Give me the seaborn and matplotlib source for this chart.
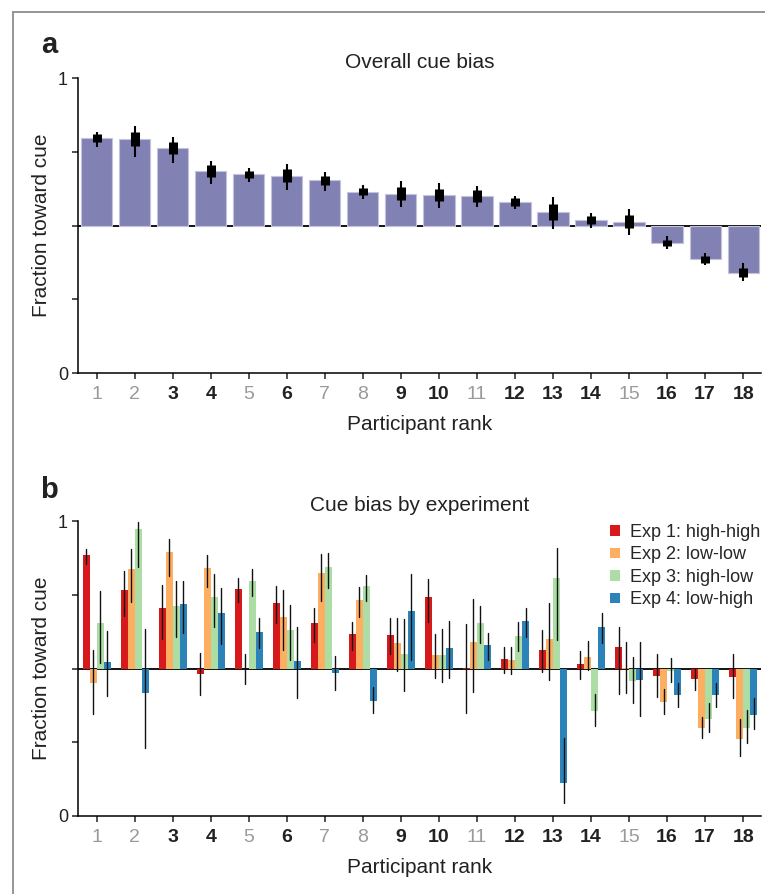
import numpy as np
import pandas as pd
import matplotlib
matplotlib.use("Agg")
import matplotlib.pyplot as plt
from matplotlib.patches import Patch
from matplotlib.lines import Line2D
from matplotlib import font_manager
import seaborn as sns

# ---------------- data ----------------
ranks = [str(i) for i in range(1, 19)]
bold_ranks = ["3", "4", "6", "9", "10", "12", "13", "14", "16", "17", "18"]

overall = [0.796, 0.792, 0.763, 0.685, 0.673, 0.669, 0.653, 0.615, 0.608,
           0.604, 0.600, 0.579, 0.545, 0.519, 0.513, 0.440, 0.385, 0.340]
overall_lo = [0.765, 0.733, 0.713, 0.640, 0.646, 0.620, 0.617, 0.589, 0.562,
              0.560, 0.563, 0.555, 0.487, 0.490, 0.468, 0.419, 0.367, 0.312]
overall_hi = [0.818, 0.837, 0.800, 0.720, 0.695, 0.707, 0.681, 0.636, 0.650,
              0.643, 0.633, 0.599, 0.597, 0.542, 0.556, 0.464, 0.408, 0.372]
overall_box = [0.014, 0.024, 0.021, 0.020, 0.012, 0.023, 0.016, 0.012, 0.022,
               0.021, 0.019, 0.013, 0.028, 0.014, 0.023, 0.011, 0.012, 0.015]

exp_labels = ["Exp 1: high-high", "Exp 2: low-low", "Exp 3: high-low", "Exp 4: low-high"]
exp_colors = ["#d7191c", "#fdae61", "#abdda4", "#2b83ba"]

exp1 = [0.884, 0.766, 0.704, 0.480, 0.771, 0.723, 0.653, 0.617, 0.615,
        0.742, 0.502, 0.531, 0.563, 0.514, 0.572, 0.475, 0.463, 0.472]
exp1_lo = [0.853, 0.678, 0.601, 0.409, 0.726, 0.653, 0.591, 0.563, 0.549,
           0.659, 0.348, 0.486, 0.489, 0.464, 0.414, 0.404, 0.427, 0.399]
exp1_hi = [0.904, 0.830, 0.784, 0.554, 0.806, 0.780, 0.704, 0.657, 0.671,
           0.804, 0.650, 0.574, 0.629, 0.558, 0.642, 0.549, 0.498, 0.549]

exp2 = [0.450, 0.836, 0.895, 0.840, 0.498, 0.675, 0.825, 0.733, 0.587,
        0.545, 0.589, 0.528, 0.600, 0.540, 0.503, 0.385, 0.298, 0.260]
exp2_lo = [0.345, 0.726, 0.814, 0.777, 0.446, 0.563, 0.730, 0.676, 0.493,
           0.467, 0.420, 0.480, 0.461, 0.495, 0.416, 0.346, 0.263, 0.204]
exp2_hi = [0.563, 0.904, 0.940, 0.884, 0.549, 0.767, 0.888, 0.777, 0.670,
           0.616, 0.736, 0.574, 0.723, 0.594, 0.591, 0.429, 0.337, 0.328]

exp3 = [0.654, 0.972, 0.712, 0.741, 0.798, 0.631, 0.845, 0.779, 0.550,
        0.546, 0.654, 0.611, 0.807, 0.357, 0.459, 0.492, 0.330, 0.299]
exp3_lo = [0.520, 0.845, 0.608, 0.640, 0.746, 0.529, 0.774, 0.730, 0.424,
           0.455, 0.588, 0.560, 0.597, 0.306, 0.382, 0.455, 0.286, 0.248]
exp3_hi = [0.764, 0.995, 0.796, 0.819, 0.837, 0.715, 0.893, 0.816, 0.668,
           0.633, 0.712, 0.658, 0.909, 0.414, 0.540, 0.535, 0.382, 0.359]

exp4 = [0.521, 0.418, 0.719, 0.688, 0.624, 0.525, 0.484, 0.390, 0.695,
        0.569, 0.579, 0.660, 0.113, 0.641, 0.461, 0.409, 0.411, 0.343]
exp4_lo = [0.407, 0.229, 0.619, 0.583, 0.569, 0.401, 0.427, 0.348, 0.529,
           0.467, 0.529, 0.606, 0.045, 0.585, 0.339, 0.368, 0.368, 0.296]
exp4_hi = [0.628, 0.635, 0.797, 0.772, 0.670, 0.642, 0.542, 0.438, 0.819,
           0.662, 0.621, 0.706, 0.263, 0.687, 0.590, 0.452, 0.450, 0.399]

baseline = 0.5

# ---------------- style ----------------
sns.set_style("ticks")
installed = {f.name for f in font_manager.fontManager.ttflist}
base_font = "Liberation Sans" if "Liberation Sans" in installed else "DejaVu Sans"
narrow_font = "Liberation Sans Narrow" if "Liberation Sans Narrow" in installed else base_font
plt.rcParams["font.family"] = [base_font, "DejaVu Sans"]
plt.rcParams["axes.linewidth"] = 1.1
plt.rcParams["xtick.major.width"] = 1.1
plt.rcParams["ytick.major.width"] = 1.1
plt.rcParams["xtick.major.size"] = 4
plt.rcParams["ytick.major.size"] = 4
plt.rcParams["xtick.color"] = "#222222"
plt.rcParams["ytick.color"] = "#222222"

W, H = 765, 894
fig = plt.figure(figsize=(W / 100, H / 100), dpi=100)

left_px, right_px = 77.7, 761.0
def axes_rect(top_px, bottom_px):
    return [left_px / W, 1 - bottom_px / H, (right_px - left_px) / W, (bottom_px - top_px) / H]

ax_a = fig.add_axes(axes_rect(78, 373))
ax_b = fig.add_axes(axes_rect(521, 816))

# ---------------- panel a ----------------
df_a = pd.DataFrame({"rank": ranks, "delta": np.array(overall) - baseline})
ax_a.axhline(baseline, color="black", lw=1.3, zorder=0.5)
sns.barplot(data=df_a, x="rank", y="delta", order=ranks, color="#8181b4",
            saturation=1, width=0.82, errorbar=None, bottom=baseline,
            edgecolor="#c3c3de", linewidth=0.8, ax=ax_a, zorder=1)
centers_a = [p.get_x() + p.get_width() / 2 for p in ax_a.patches]
for xc, m, lo, hi, bx in zip(centers_a, overall, overall_lo, overall_hi, overall_box):
    ax_a.plot([xc, xc], [lo, hi], color="black", lw=1.5, solid_capstyle="butt", zorder=3)
    ax_a.plot([xc, xc], [m - bx, m + bx], color="black", lw=6.5, solid_capstyle="butt", zorder=3)

# ---------------- panel b ----------------
rows = []
for lab, vals in zip(exp_labels, [exp1, exp2, exp3, exp4]):
    for r, v in zip(ranks, vals):
        rows.append({"rank": r, "exp": lab, "delta": v - baseline})
df_b = pd.DataFrame(rows)
ax_b.axhline(baseline, color="black", lw=1.3, zorder=0.5)
sns.barplot(data=df_b, x="rank", y="delta", hue="exp", order=ranks,
            hue_order=exp_labels, palette=exp_colors, saturation=1, width=0.74,
            errorbar=None, bottom=baseline, edgecolor="none", linewidth=0,
            legend=False, ax=ax_b, zorder=1)
patches_b = list(ax_b.patches)
k = 0
for los, his in zip([exp1_lo, exp2_lo, exp3_lo, exp4_lo], [exp1_hi, exp2_hi, exp3_hi, exp4_hi]):
    for lo, hi in zip(los, his):
        p = patches_b[k]
        xc = p.get_x() + p.get_width() / 2
        ax_b.plot([xc, xc], [lo, hi], color="#111111", lw=1.0, zorder=3)
        k += 1

handles = [Patch(facecolor=c, edgecolor="none", label=l) for c, l in zip(exp_colors, exp_labels)]
ax_b.legend(handles=handles, loc="upper left", bbox_to_anchor=(0.779, 0.99),
            frameon=False, fontsize=13, handlelength=0.55, handleheight=0.5,
            handletextpad=0.55, labelspacing=0.3, borderpad=0, borderaxespad=0)

# ---------------- common axes styling ----------------
for ax, title in [(ax_a, "Overall cue bias"), (ax_b, "Cue bias by experiment")]:
    ax.set_xlim(-0.5, 17.47)
    ax.set_ylim(0, 1)
    ax.set_yticks([0, 0.25, 0.5, 0.75, 1])
    ax.set_yticklabels(["0", "", "", "", "1"], fontsize=13, color="#222222")
    ax.tick_params(axis="y", pad=3)
    ax.tick_params(axis="x", pad=5)
    ax.set_xticks(range(len(ranks)))
    ax.set_xticklabels(ranks)
    for t, r in zip(ax.get_xticklabels(), ranks):
        t.set_fontfamily([narrow_font, "DejaVu Sans"])
        t.set_fontsize(14)
        if r in bold_ranks:
            t.set_fontweight("bold")
            t.set_color("#222222")
        else:
            t.set_color("#9a9a9a")
    ax.set_xlabel("Participant rank", fontsize=15, color="#222222",
                  fontfamily=[narrow_font, "DejaVu Sans"], labelpad=9)
    ax.set_ylabel("Fraction toward cue", fontsize=15, color="#222222", labelpad=5)
    ax.set_title(title, fontsize=15, color="#222222", pad=7)
    sns.despine(ax=ax)
    ax.spines["left"].set_color("black")
    ax.spines["bottom"].set_color("black")

# panel letters
fig.text(49 / W, 1 - 45 / H, "a", fontsize=21, fontweight="bold", ha="center", va="center", color="#222222")
fig.text(49 / W, 1 - 490 / H, "b", fontsize=21, fontweight="bold", ha="center", va="center", color="#222222")

# figure frame (top and left)
fig.add_artist(Line2D([12.5 / W, 1], [1 - 11.5 / H, 1 - 11.5 / H], color="#8c8c8c", lw=1.3, transform=fig.transFigure))
fig.add_artist(Line2D([12.5 / W, 12.5 / W], [0, 1 - 11.5 / H], color="#8c8c8c", lw=1.3, transform=fig.transFigure))

fig.savefig("out.png", dpi=100)
